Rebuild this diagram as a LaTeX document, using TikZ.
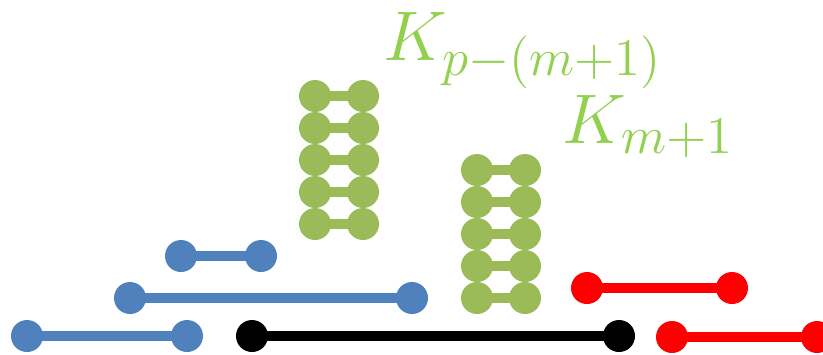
\documentclass[tikz,border=0pt]{standalone}
\usepackage{fix-cm}
\DeclareMathSizes{20}{20}{15}{11}
\definecolor{ladgreen}{HTML}{9BBB59}
\definecolor{labgreen}{HTML}{92D050}
\definecolor{segblue}{HTML}{4F81BD}
\definecolor{segred}{HTML}{FF0000}
\begin{document}
\begin{tikzpicture}[
    dot/.style={circle, fill=#1, inner sep=0pt, minimum size=0.32cm},
    bar/.style={line width=0.1cm, #1},
    lab/.style={labgreen, inner sep=0pt, anchor=base west, font=\fontsize{20}{24}\selectfont}]
    \useasboundingbox (0,0) rectangle (8.23,3.54);
    % Ladders K_{p-(m+1)} and K_{m+1}
    \foreach \y [count=\i] in {2.58,2.26,1.94,1.62,1.30} {
        \node[dot=ladgreen] (al\i) at (3.15,\y) {};
        \node[dot=ladgreen] (ar\i) at (3.63,\y) {};
        \draw[bar=ladgreen] (al\i.center) -- (ar\i.center);
    }
    \foreach \y [count=\i] in {1.84,1.52,1.20,0.88,0.56} {
        \node[dot=ladgreen] (bl\i) at (4.77,\y) {};
        \node[dot=ladgreen] (br\i) at (5.25,\y) {};
        \draw[bar=ladgreen] (bl\i.center) -- (br\i.center);
    }
    \node[lab] (ka) at (3.83,2.94) {$K_{p-(m+1)}$};
    \node[lab] (kb) at (5.62,2.11) {$K_{m+1}$};
    % Blue segments
    \node[dot=segblue] (u1) at (1.81,0.98) {};
    \node[dot=segblue] (u2) at (2.61,0.98) {};
    \draw[bar=segblue] (u1.center) -- (u2.center);
    \node[dot=segblue] (v1) at (1.30,0.56) {};
    \node[dot=segblue] (v2) at (4.12,0.56) {};
    \draw[bar=segblue] (v1.center) -- (v2.center);
    \node[dot=segblue] (w1) at (0.27,0.18) {};
    \node[dot=segblue] (w2) at (1.87,0.18) {};
    \draw[bar=segblue] (w1.center) -- (w2.center);
    % Black segment
    \node[dot=black] (s1) at (2.52,0.18) {};
    \node[dot=black] (s2) at (6.19,0.18) {};
    \draw[bar=black] (s1.center) -- (s2.center);
    % Red segments
    \node[dot=segred] (r1) at (5.87,0.66) {};
    \node[dot=segred] (r2) at (7.32,0.66) {};
    \draw[bar=segred] (r1.center) -- (r2.center);
    \node[dot=segred] (t1) at (6.72,0.17) {};
    \node[dot=segred] (t2) at (8.17,0.17) {};
    \draw[bar=segred] (t1.center) -- (t2.center);
\end{tikzpicture}
\end{document}
